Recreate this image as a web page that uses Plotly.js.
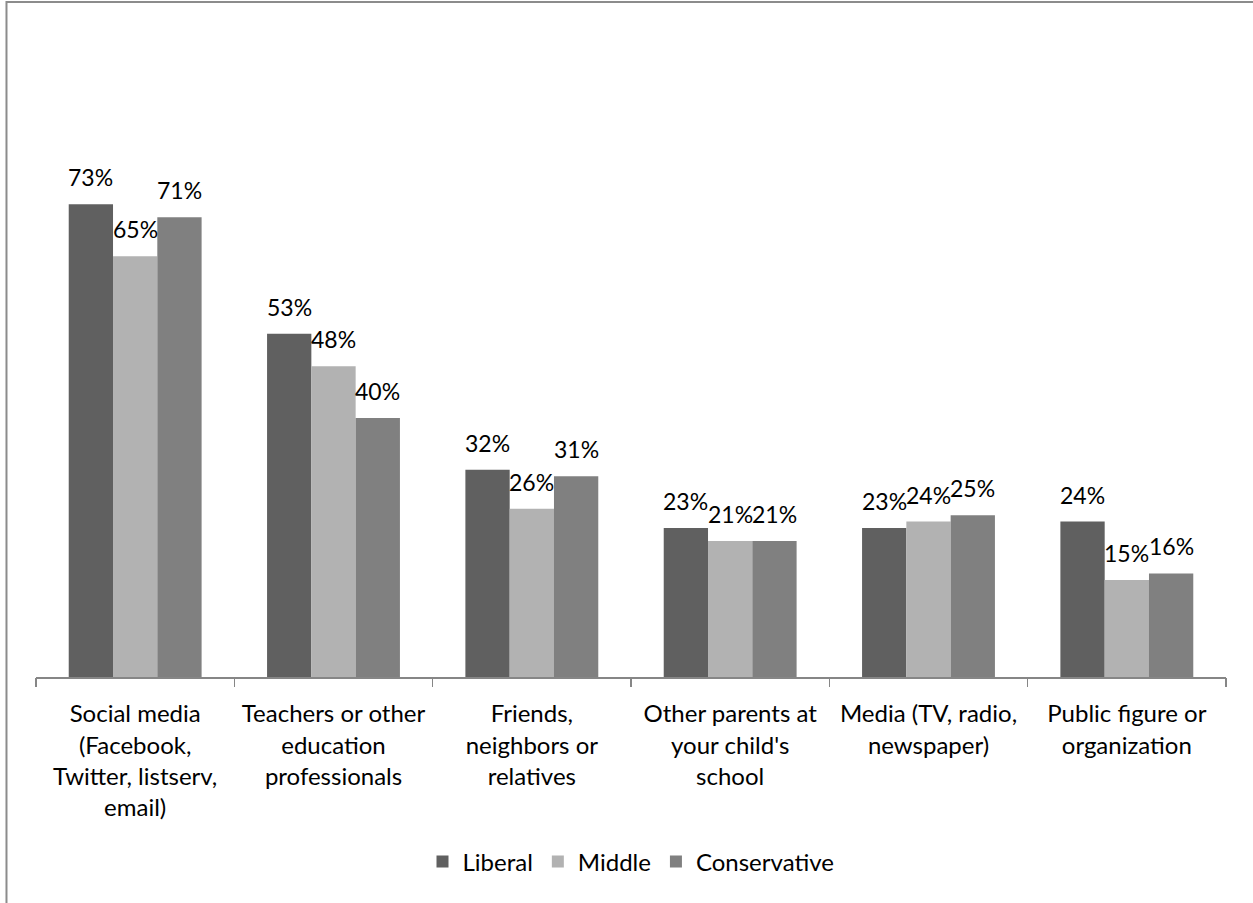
<!DOCTYPE html>
<html>
<head>
<meta charset="utf-8">
<script src="https://cdn.plot.ly/plotly-3.0.1.min.js"></script>
<style>
  html, body { margin: 0; padding: 0; background: #ffffff; }
  #chart { width: 1253px; height: 903px; }
</style>
</head>
<body>
<div id="chart"></div>
<script>
const categories = [
  "Social media<br>(Facebook,<br>Twitter, listserv,<br>email)",
  "Teachers or other<br>education<br>professionals",
  "Friends,<br>neighbors or<br>relatives",
  "Other parents at<br>your child's<br>school",
  "Media (TV, radio,<br>newspaper)",
  "Public figure or<br>organization"
];
const seriesNames = ["Liberal", "Middle", "Conservative"];
const liberal      = [73, 53, 32, 23, 23, 24];
const middle       = [65, 48, 26, 21, 24, 15];
const conservative = [71, 40, 31, 21, 25, 16];
const colors = ["#606060", "#b2b2b2", "#808080"];

const series = [liberal, middle, conservative];
const FONT = "Lato, 'Open Sans', sans-serif";
const bargap = 0.33;
const barW = (1 - bargap) / series.length;

const traces = series.map((vals, j) => ({
  type: "bar",
  name: seriesNames[j],
  x: categories.map((c, i) => i),
  y: vals,
  marker: { color: colors[j], line: { width: 0 } },
  hoverinfo: "skip"
}));

const annotations = [];
series.forEach((vals, j) => {
  vals.forEach((v, i) => {
    annotations.push({
      x: i + (j - (series.length - 1) / 2) * barW,
      y: v,
      xref: "x", yref: "y",
      text: v + "%",
      showarrow: false,
      xanchor: "center",
      yanchor: "bottom",
      yshift: 11,
      font: { family: FONT, size: 23, color: "#000000" }
    });
  });
});

const layout = {
  width: 1253,
  height: 903,
  margin: { l: 36, r: 27, t: 159, b: 226 },
  paper_bgcolor: "#ffffff",
  plot_bgcolor: "#ffffff",
  barmode: "group",
  bargap: bargap,
  bargroupgap: 0,
  showlegend: true,
  legend: {
    orientation: "h",
    x: 0.5, xanchor: "center",
    y: -0.357, yanchor: "middle",
    font: { family: FONT, size: 24, color: "#000000" },
    traceorder: "normal"
  },
  xaxis: {
    type: "linear",
    range: [-0.5, categories.length - 0.5],
    tickmode: "array",
    tickvals: categories.map((c, i) => i),
    ticktext: categories,
    showgrid: false,
    zeroline: false,
    showline: true,
    linecolor: "#868686",
    linewidth: 1.5,
    ticks: "",
    ticklabelstandoff: 15,
    tickfont: { family: FONT, size: 24, color: "#000000" },
    fixedrange: true
  },
  xaxis2: {
    overlaying: "x",
    anchor: "y",
    type: "linear",
    range: [-0.5, categories.length - 0.5],
    tickmode: "array",
    tickvals: categories.map((c, i) => i - 0.5).concat([categories.length - 0.5]),
    showticklabels: false,
    ticks: "outside",
    ticklen: 9,
    tickwidth: 1.5,
    tickcolor: "#868686",
    showgrid: false,
    zeroline: false,
    showline: false,
    side: "bottom"
  },
  yaxis: {
    range: [0, 80],
    visible: false,
    showgrid: false,
    zeroline: false,
    fixedrange: true
  },
  annotations: annotations,
  shapes: [
    {
      type: "rect", xref: "paper", yref: "paper",
      x0: -0.0248, x1: 1.2, y0: -0.6, y1: 1.303,
      line: { color: "#8c8c8c", width: 2 },
      fillcolor: "rgba(0,0,0,0)",
      layer: "above"
    }
  ]
};

// invisible trace that activates the boundary-tick axis
traces.push({
  type: "scatter", x: [0], y: [0], xaxis: "x2", yaxis: "y",
  mode: "markers", marker: { opacity: 0 }, showlegend: false, hoverinfo: "skip"
});

Plotly.newPlot("chart", traces, layout, { displayModeBar: false, staticPlot: true });
</script>
</body>
</html>
